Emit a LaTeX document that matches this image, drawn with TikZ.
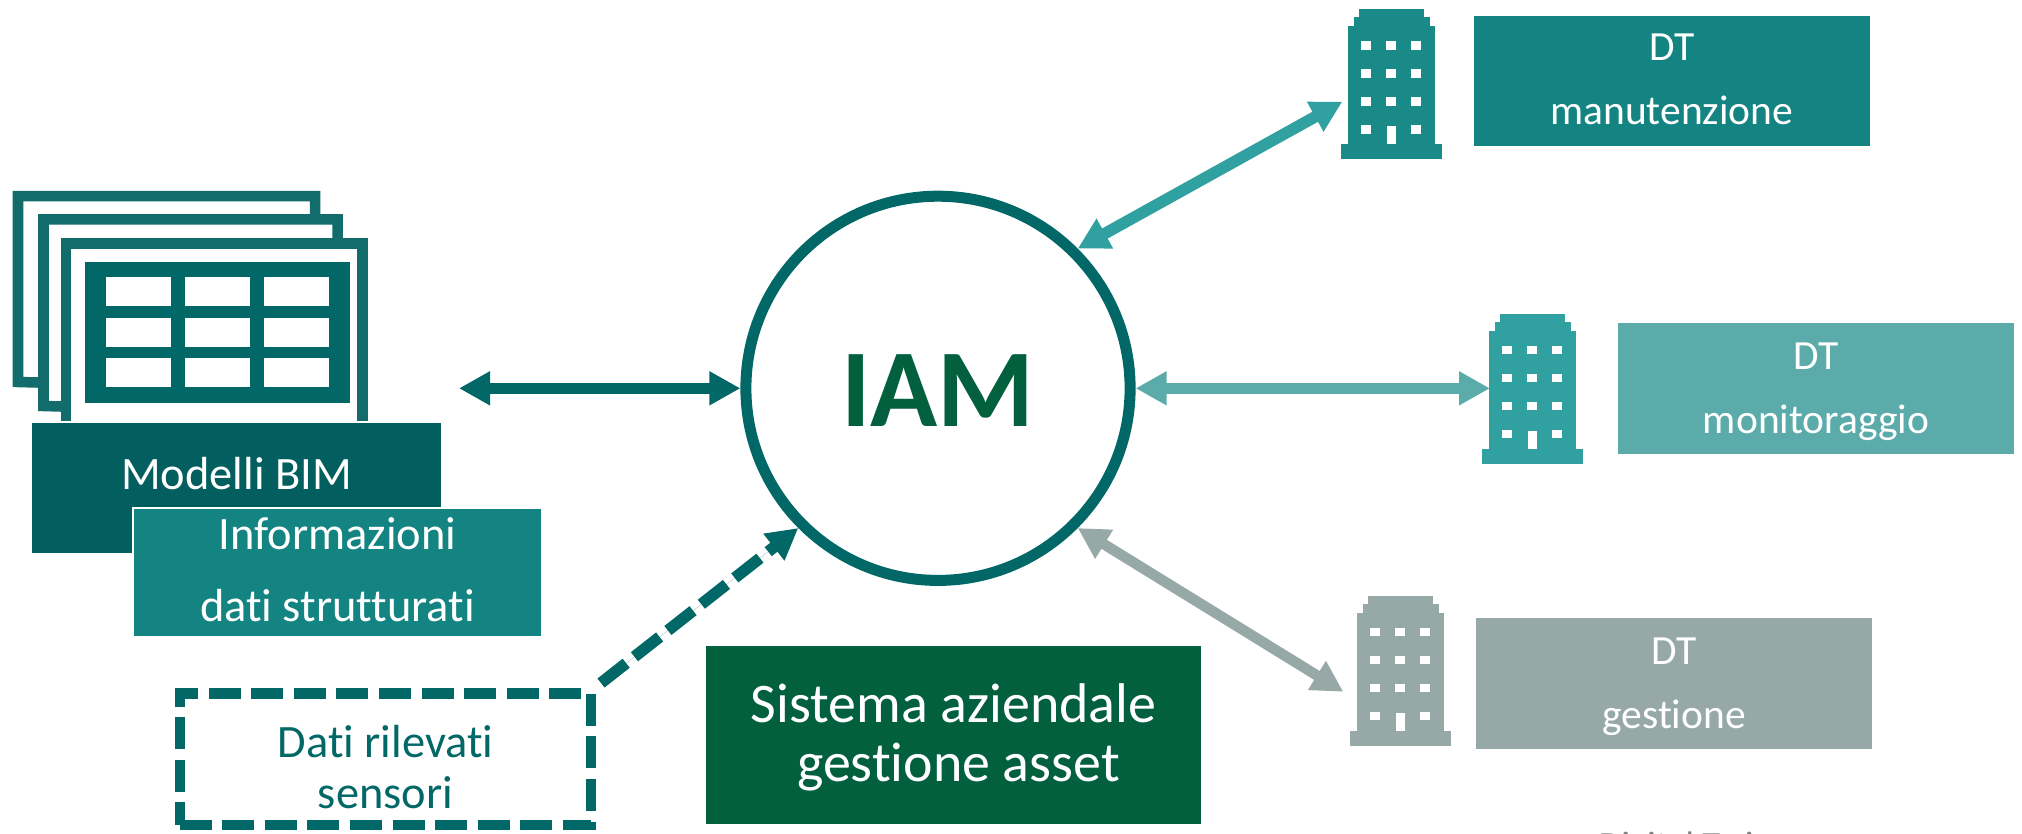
\documentclass[tikz,border=0pt]{standalone}
\usepackage{fontspec}
\setmainfont[Ligatures=NoCommon]{Carlito}
\usepackage{tikz}
\usepackage{xcolor}
\usetikzlibrary{arrows.meta}

\definecolor{iamteal}{HTML}{026867}
\definecolor{frameteal}{HTML}{116C6B}
\definecolor{bimteal}{HTML}{035E5F}
\definecolor{infoteal}{HTML}{148483}
\definecolor{iamgreen}{HTML}{03603F}
\definecolor{manutteal}{HTML}{31A0A0}
\definecolor{manutblock}{HTML}{1A8A88}
\definecolor{monitteal}{HTML}{5CABAB}
\definecolor{gestgrey}{HTML}{96A9A7}

\tikzset{
    filledbox/.style={rectangle, text=white, inner sep=0pt, align=center},
    dtlabel/.style={filledbox, minimum width=3.96cm, minimum height=1.305cm, text depth=0.04cm, font=\fontsize{11.8}{18.1}\selectfont},
    bimlabel/.style={filledbox, minimum width=4.09cm, font=\fontsize{13.2}{20.4}\selectfont},
    frameline/.style={draw=frameteal, line width=0.105cm},
    link/.style={<->, line width=0.115cm},
    pics/building/.style={code={
        \fill[#1] (0,135) rectangle (101,150);
        \fill[#1] (7,17) rectangle (93.5,135);
        \fill[#1] (12.5,8) rectangle (88.5,17);
        \fill[#1] (17.5,0) rectangle (82.5,8);
        \foreach \wy in {32,60,88} {
            \foreach \wx in {20,45,70} {
                \fill[white] (\wx,\wy) rectangle ++(10,8.5);
            }
        }
        \fill[white] (20,116) rectangle ++(10,8.5);
        \fill[white] (70,116) rectangle ++(10,8.5);
        \fill[white] (45.5,117) rectangle (54.5,135);
    }}
}

\begin{document}
\begin{tikzpicture}[x=0.01cm, y=-0.01cm, >={Triangle[length=0.31cm,width=0.32cm]}]
    \useasboundingbox (0,0) rectangle (2022,833);

    % stacked sheets and table
    \draw[frameline] (38,382.5) -- (18,382) -- (18,196) -- (315,196) -- (315,214);
    \draw[frameline] (61,406.5) -- (43.5,406) -- (43.5,219.3) -- (337.5,219.3) -- (337.5,238);
    \draw[frameline] (66,420.7) -- (66,243.3) -- (362.5,243.3) -- (362.5,420.7);
    \node (bimTable) at (217.5,332.5) [rectangle, fill=iamteal, minimum width=2.65cm, minimum height=1.41cm] {};
    \foreach \cx in {106,185,264} {
        \foreach \cy in {277,318,358} {
            \fill[white] (\cx,\cy) rectangle ++(65,29);
        }
    }

    \node (bim) at (236.5,488) [bimlabel, fill=bimteal, minimum height=1.294cm, text height=0.4cm, text depth=0.38cm] {Modelli BIM};
    \node (info) at (337.5,572.3) [bimlabel, fill=infoteal, draw=white, line width=0.02cm, minimum height=1.287cm, text depth=0.06cm] {Informazioni\\dati strutturati};

    % central system
    \node (iam) at (938,388.3) [circle, draw=iamteal, fill=white, line width=0.11cm, minimum size=3.84cm, text=iamgreen, text height=0.77cm, text depth=0pt, font=\fontsize{31.5}{32}\selectfont\bfseries] {IAM};
    \node (asset) at (953.5,735) [filledbox, fill=iamgreen, minimum width=4.94cm, minimum height=1.78cm, text depth=0.05cm, font=\fontsize{15.9}{17}\selectfont] {Sistema aziendale\\\hspace*{0.1cm}gestione asset};

    % sensors
    \node (sensori) at (385.5,759.2) [rectangle, draw=iamteal, line width=0.105cm, dash pattern=on 0.32cm off 0.105cm, minimum width=4.11cm, minimum height=1.315cm, inner sep=0pt, align=center, text=iamteal, text height=0.98cm, text depth=0pt, font=\fontsize{13.2}{14.5}\selectfont] {Dati rilevati\\sensori};

    % buildings and their labels
    \pic at (1341,9) {building=manutblock};
    \pic at (1482,313.5) {building=manutteal};
    \pic at (1350,595.7) {building=gestgrey};
    \node (dtManut) at (1671.7,81) [dtlabel, fill=infoteal] {DT\\manutenzione};
    \node (dtMonit) at (1816,388.5) [dtlabel, fill=monitteal, text depth=0pt] {DT\\monitoraggio};
    \node (dtGest) at (1674,683.3) [dtlabel, fill=gestgrey, text depth=0pt] {DT\\gestione};

    \node (twin) at (1686,857) [anchor=base, inner sep=0pt, text=gray, font=\fontsize{10.5}{12}\selectfont] {Digital Twin};

    \coordinate (bimPort) at (459,388.3);
    \coordinate (manutPort) at (1342.3,101.7);
    \coordinate (monitPort) at (1490,388.3);
    \coordinate (gestPort) at (1343.3,691.7);
    \coordinate (sensoriPort) at (601,683);

    \draw[link, draw=iamteal, fill=iamteal] (bimPort) -- (iam.west);
    \draw[link, draw=manutteal, fill=manutteal] (iam.45) -- (manutPort);
    \draw[link, draw=monitteal, fill=monitteal] (iam.east) -- (monitPort);
    \draw[link, draw=gestgrey, fill=gestgrey, line width=0.105cm] (iam.-45) -- (gestPort);
    \draw[->, draw=iamteal, fill=iamteal, line width=0.115cm, dash pattern=on 0.32cm off 0.105cm] (sensoriPort) -- (iam.-135);
\end{tikzpicture}
\end{document}
